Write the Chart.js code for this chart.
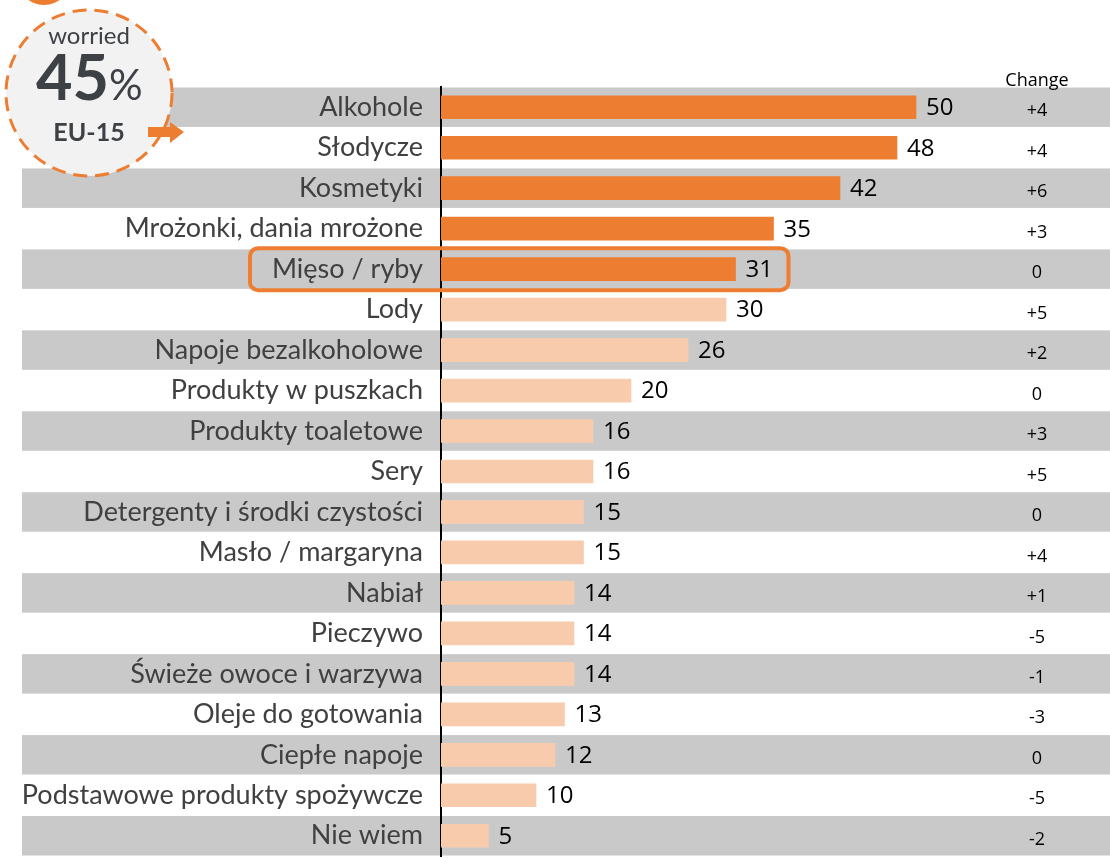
<!DOCTYPE html>
<html>
<head>
<meta charset="utf-8">
<script src="https://cdn.jsdelivr.net/npm/chart.js@4"></script>
<style>
  body { margin: 0; background: #fff; }
  canvas { display: block; }
</style>
</head>
<body>
<canvas id="ctx" width="1110" height="858"></canvas>
<script>
const categories = [
  "Alkohole", "Słodycze", "Kosmetyki", "Mrożonki, dania mrożone", "Mięso / ryby",
  "Lody", "Napoje bezalkoholowe", "Produkty w puszkach", "Produkty toaletowe", "Sery",
  "Detergenty i środki czystości", "Masło / margaryna", "Nabiał", "Pieczywo",
  "Świeże owoce i warzywa", "Oleje do gotowania", "Ciepłe napoje",
  "Podstawowe produkty spożywcze", "Nie wiem"
];
const values = [50, 48, 42, 35, 31, 30, 26, 20, 16, 16, 15, 15, 14, 14, 14, 13, 12, 10, 5];
const changes = ["+4", "+4", "+6", "+3", "0", "+5", "+2", "0", "+3", "+5", "0", "+4", "+1", "-5", "-1", "-3", "0", "-5", "-2"];
const topCount = 5;
const highlightIndex = 4;

const dark = "#ED7D31";
const light = "#F8CBAD";
const barColors = values.map((v, i) => (i < topCount ? dark : light));

const ctx = document.getElementById("ctx");

const bandsPlugin = {
  id: "bands",
  beforeDraw(chart) {
    const c = chart.ctx;
    const y = chart.scales.y;
    const step = y.getPixelForValue(1) - y.getPixelForValue(0);
    c.save();
    c.fillStyle = "#c9c9c9";
    for (let i = 0; i < categories.length; i += 2) {
      const py = y.getPixelForValue(i);
      c.fillRect(22, py - step / 2 + 0.5, chart.width - 22, step - 1);
    }
    c.restore();
  },
};

const labelsPlugin = {
  id: "labels",
  afterDatasetsDraw(chart) {
    const c = chart.ctx;
    const bars = chart.getDatasetMeta(0).data;
    c.save();
    c.fillStyle = "#000";
    c.textBaseline = "middle";
    c.textAlign = "left";
    c.font = "24px 'Open Sans'";
    bars.forEach((bar, i) => {
      c.fillText(String(values[i]), bar.x + 10, bar.y + 1);
    });
    c.textAlign = "center";
    c.font = "18px 'Open Sans'";
    bars.forEach((bar, i) => {
      c.fillText(changes[i], 1037, bar.y + 4);
    });
    c.textBaseline = "alphabetic";
    c.fillText("Change", 1037, 86);

    // highlight box
    const hb = bars[highlightIndex];
    const left = 250, right = hb.x + 53, top = hb.y - 21, bottom = hb.y + 21;
    c.strokeStyle = dark;
    c.lineWidth = 4;
    c.beginPath();
    c.roundRect(left, top, right - left, bottom - top, 8);
    c.stroke();
    c.restore();
  },
};

const badgePlugin = {
  id: "badge",
  afterDraw(chart) {
    const c = chart.ctx;
    c.save();
    // cut-off circle at the top
    c.fillStyle = dark;
    c.beginPath();
    c.arc(44, -22, 27, 0, Math.PI * 2);
    c.fill();

    // dashed circle
    c.fillStyle = "#f2f2f2";
    c.beginPath();
    c.arc(89, 93, 83, 0, Math.PI * 2);
    c.fill();
    c.strokeStyle = dark;
    c.lineWidth = 3;
    c.setLineDash([14, 8]);
    c.stroke();
    c.setLineDash([]);

    c.fillStyle = "#3d4145";
    c.textAlign = "center";
    c.textBaseline = "alphabetic";
    c.font = "24px Lato";
    c.fillText("worried", 89, 44);
    c.font = "bold 63px Lato";
    c.textAlign = "right";
    c.fillText("45", 109, 100);
    c.textAlign = "left";
    c.font = "42px Lato";
    c.fillText("%", 109, 100);
    c.textAlign = "center";
    c.font = "bold 25px Lato";
    c.fillText("EU-15", 89, 141);

    // arrow
    c.fillStyle = dark;
    c.beginPath();
    c.moveTo(148, 127);
    c.lineTo(170, 127);
    c.lineTo(170, 122);
    c.lineTo(184, 132);
    c.lineTo(170, 143);
    c.lineTo(170, 137);
    c.lineTo(148, 137);
    c.closePath();
    c.fill();
    c.restore();
  },
};

new Chart(ctx, {
  type: "bar",
  data: {
    labels: categories,
    datasets: [
      {
        data: values,
        backgroundColor: barColors,
        borderWidth: 0,
        barThickness: 23,
      },
    ],
  },
  options: {
    indexAxis: "y",
    responsive: false,
    animation: false,
    layout: { padding: { top: 87, bottom: 2, left: 0, right: 4 } },
    plugins: {
      legend: { display: false },
      tooltip: { enabled: false },
    },
    scales: {
      x: { display: false, min: 0, max: 70 },
      y: {
        grid: { display: false, drawTicks: false },
        border: { color: "#000", width: 2 },
        ticks: {
          color: "#404040",
          padding: 18,
          font: { family: "Lato", size: 27 },
        },
        afterFit(scale) {
          scale.width = 441;
          scale.paddingTop = 0;
          scale.paddingBottom = 0;
        },
      },
    },
  },
  plugins: [bandsPlugin, labelsPlugin, badgePlugin],
});
</script>
</body>
</html>
